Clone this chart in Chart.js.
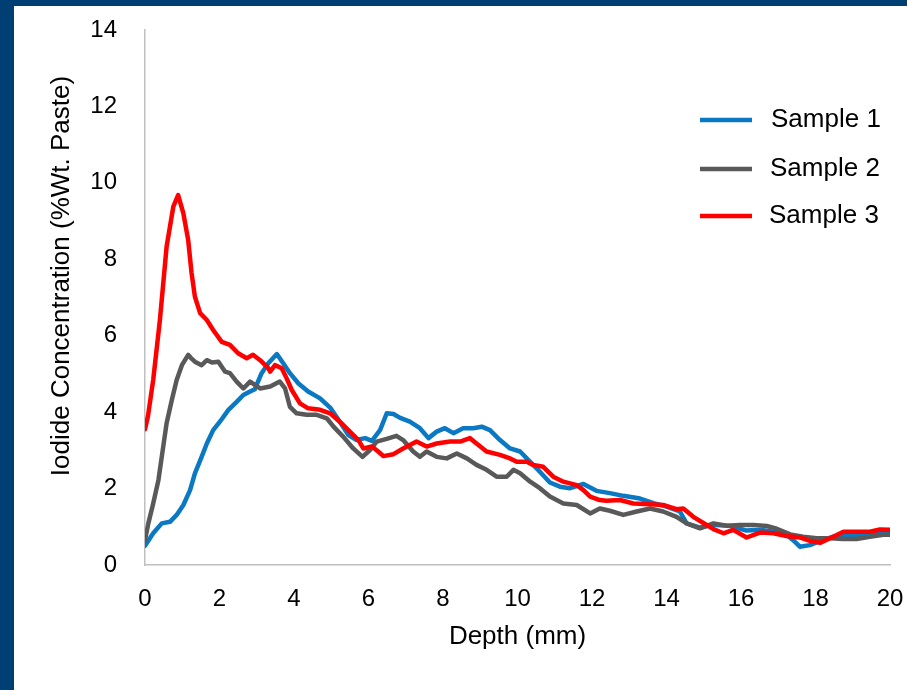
<!DOCTYPE html>
<html><head><meta charset="utf-8">
<script src="https://cdn.jsdelivr.net/npm/chart.js@4.4.1/dist/chart.umd.min.js"></script>
<style>
html,body{margin:0;padding:0;background:#fff;width:907px;height:690px;overflow:hidden;}
#frameTop{position:absolute;left:0;top:0;width:907px;height:6px;background:#003f74;}
#frameLeft{position:absolute;left:0;top:0;width:14px;height:690px;background:#003f74;}
#c{position:absolute;left:0;top:0;}
</style></head><body>
<div id="frameTop"></div><div id="frameLeft"></div>
<canvas id="c" width="907" height="690"></canvas>
<script>
// ---- data ----
const seriesNames = ["Sample 1", "Sample 2", "Sample 3"];
const seriesColors = ["#0a78c2", "#595959", "#ff0000"];
const xTitle = "Depth (mm)";
const yTitle = "Iodide Concentration (%Wt. Paste)";

const s1Depth = [0,0.22,0.45,0.67,0.85,1.03,1.21,1.34,1.52,1.66,1.83,2.01,2.24,2.46,2.64,2.82,2.95,3.13,3.31,3.54,3.71,3.89,4.12,4.38,4.7,4.97,5.23,5.46,5.68,5.91,6.09,6.31,6.49,6.67,6.85,7.11,7.38,7.61,7.83,8.05,8.28,8.54,8.81,9.04,9.26,9.53,9.8,10.07,10.34,10.6,10.87,11.14,11.41,11.77,12.12,12.48,12.84,13.29,13.65,14.0,14.36,14.54,14.9,15.26,15.71,16.15,16.51,16.87,17.22,17.4,17.58,17.85,18.12,18.48,18.93,19.37,19.82,20];
const s1Conc  = [0.5,0.83,1.09,1.13,1.31,1.57,1.96,2.4,2.83,3.18,3.53,3.75,4.06,4.27,4.45,4.54,4.6,5.02,5.28,5.52,5.28,5.02,4.75,4.54,4.36,4.12,3.75,3.4,3.27,3.32,3.25,3.53,3.97,3.95,3.85,3.75,3.58,3.32,3.49,3.58,3.45,3.58,3.58,3.62,3.53,3.27,3.05,2.97,2.7,2.44,2.16,2.05,2.01,2.12,1.94,1.88,1.81,1.74,1.62,1.53,1.4,1.09,0.98,1.05,1.02,0.9,0.92,0.87,0.79,0.65,0.48,0.52,0.63,0.74,0.77,0.79,0.83,0.83];

const s2Depth = [0,0.09,0.22,0.36,0.49,0.58,0.72,0.85,0.99,1.16,1.25,1.34,1.52,1.66,1.8,1.97,2.15,2.28,2.46,2.64,2.82,3.09,3.36,3.62,3.76,3.89,4.07,4.34,4.61,4.88,5.06,5.32,5.59,5.84,6.04,6.22,6.49,6.75,6.93,7.2,7.38,7.56,7.83,8.1,8.37,8.64,8.9,9.17,9.44,9.71,9.89,10.07,10.34,10.6,10.87,11.23,11.59,11.95,12.21,12.48,12.84,13.2,13.56,13.91,14.27,14.54,14.9,15.26,15.62,15.97,16.33,16.69,16.96,17.32,17.67,18.03,18.39,18.75,19.1,19.46,19.82,20];
const s2Conc  = [0.65,1.09,1.61,2.22,3.1,3.71,4.32,4.84,5.23,5.5,5.4,5.32,5.23,5.36,5.3,5.32,5.06,5.02,4.8,4.62,4.8,4.62,4.67,4.8,4.62,4.14,3.97,3.93,3.93,3.84,3.62,3.36,3.05,2.83,3.01,3.23,3.3,3.38,3.27,2.97,2.83,2.97,2.83,2.79,2.92,2.79,2.62,2.49,2.31,2.31,2.49,2.4,2.18,2.01,1.79,1.61,1.57,1.35,1.48,1.42,1.31,1.4,1.48,1.4,1.26,1.09,0.96,1.09,1.03,1.05,1.05,1.02,0.95,0.8,0.74,0.7,0.7,0.68,0.68,0.74,0.79,0.79];

const s3Depth = [0,0.08,0.22,0.4,0.58,0.76,0.89,1.03,1.16,1.25,1.34,1.48,1.66,1.83,2.06,2.28,2.5,2.73,2.9,3.09,3.31,3.36,3.49,3.67,3.8,3.94,4.16,4.38,4.7,4.97,5.23,5.5,5.73,5.86,6.09,6.26,6.4,6.67,6.93,7.29,7.56,7.83,8.19,8.46,8.72,8.9,9.17,9.53,9.8,9.98,10.25,10.42,10.69,10.96,11.23,11.59,11.77,11.95,12.21,12.39,12.75,13.11,13.56,13.91,14.27,14.45,14.72,14.99,15.26,15.53,15.79,16.15,16.51,16.87,17.22,17.58,17.85,18.12,18.39,18.75,19.1,19.46,19.73,20];
const s3Conc  = [3.55,3.9,4.84,6.41,8.33,9.38,9.68,9.2,8.5,7.64,7.02,6.59,6.41,6.15,5.84,5.76,5.54,5.41,5.5,5.36,5.15,5.06,5.23,5.15,4.89,4.58,4.23,4.1,4.06,3.97,3.75,3.49,3.27,3.05,3.1,2.97,2.85,2.9,3.05,3.23,3.1,3.18,3.23,3.23,3.32,3.18,2.97,2.88,2.79,2.7,2.7,2.62,2.57,2.31,2.18,2.09,1.96,1.79,1.7,1.68,1.7,1.61,1.59,1.57,1.46,1.48,1.26,1.1,0.94,0.83,0.92,0.72,0.85,0.83,0.76,0.72,0.63,0.58,0.7,0.87,0.87,0.87,0.93,0.92];

const xMin = 0, xMax = 20, xStep = 2;
const yMin = 0, yMax = 14, yStep = 2;

// ---- build ----
const depths = [s1Depth, s2Depth, s3Depth];
const concs = [s1Conc, s2Conc, s3Conc];
const drawOrder = [2, 1, 0];
const FONT = "'Liberation Sans', Arial, sans-serif";

const datasets = seriesNames.map((name, i) => ({
  label: name,
  data: depths[i].map((d, k) => ({x: d, y: concs[i][k]})),
  borderColor: seriesColors[i],
  backgroundColor: seriesColors[i],
  borderWidth: 4.5,
  borderJoinStyle: 'round',
  borderCapStyle: 'round',
  pointRadius: 0,
  showLine: true,
  fill: false,
  tension: 0,
  order: drawOrder[i]
}));

const overlay = {
  id: 'overlay',
  afterDraw(chart) {
    const ctx = chart.ctx;
    ctx.save();
    // y axis title
    ctx.fillStyle = '#000';
    ctx.font = "26px " + FONT;
    ctx.textAlign = 'center';
    ctx.textBaseline = 'middle';
    ctx.translate(62, 276);
    ctx.rotate(-Math.PI / 2);
    ctx.fillText(yTitle, 0, 0);
    ctx.restore();
    // legend
    const rows = [120, 169, 216];
    ctx.save();
    ctx.font = "26px " + FONT;
    ctx.textBaseline = 'middle';
    ctx.textAlign = 'left';
    chart.data.datasets.forEach((ds, i) => {
      ctx.strokeStyle = ds.borderColor;
      ctx.lineWidth = 4.5;
      ctx.beginPath();
      ctx.moveTo(700, rows[i]);
      ctx.lineTo(752, rows[i]);
      ctx.stroke();
      ctx.fillStyle = '#000';
      ctx.fillText(ds.label, 771 - i, rows[i]);
    });
    ctx.restore();
  }
};

new Chart(document.getElementById('c'), {
  type: 'scatter',
  data: { datasets },
  options: {
    responsive: false,
    animation: false,
    layout: { padding: { top: 30, right: 17, bottom: 0, left: 0 } },
    plugins: { legend: { display: false }, tooltip: { enabled: false } },
    scales: {
      x: {
        type: 'linear', min: xMin, max: xMax,
        grid: { display: false, drawTicks: false },
        border: { display: true, color: '#bfbfbf', width: 1.5 },
        ticks: { stepSize: xStep, padding: 20, color: '#000', font: { family: FONT, size: 24 } },
        title: { display: true, text: xTitle, color: '#000', font: { family: FONT, size: 26 }, padding: { top: 0, bottom: 38 } },
        afterFit(s) { s.height = 125; s.paddingLeft = 0; s.paddingRight = 0; }
      },
      y: {
        type: 'linear', min: yMin, max: yMax,
        grid: { display: false, drawTicks: false },
        border: { display: true, color: '#bfbfbf', width: 1.5 },
        ticks: { stepSize: yStep, padding: 28, color: '#000', font: { family: FONT, size: 24 } },
        afterFit(s) { s.width = 145; s.paddingTop = 0; s.paddingBottom = 0; }
      }
    }
  },
  plugins: [overlay]
});
</script>
</body></html>
